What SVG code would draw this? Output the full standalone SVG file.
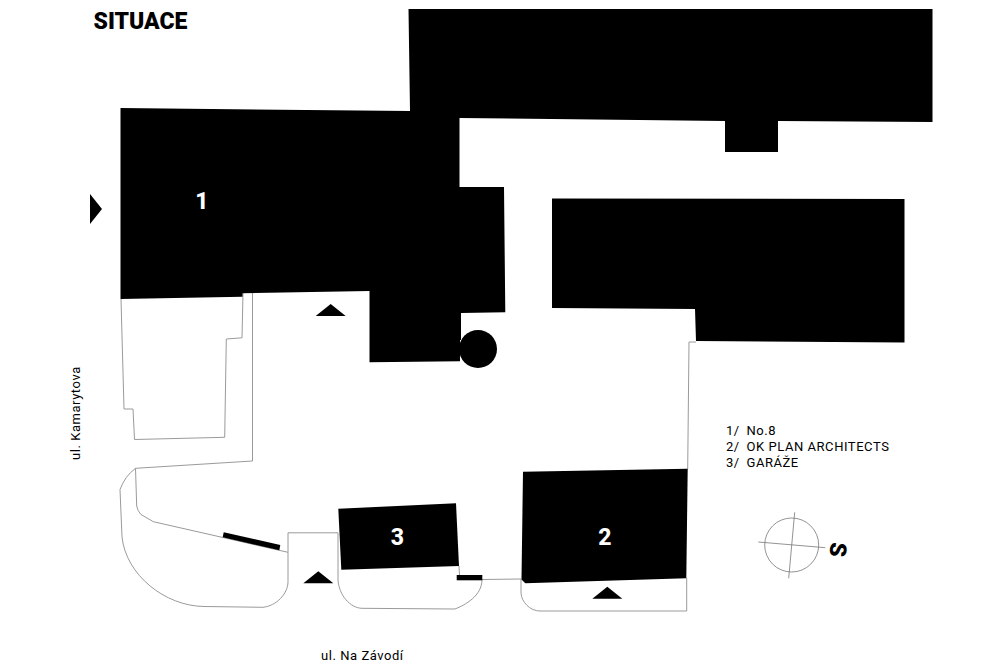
<svg xmlns="http://www.w3.org/2000/svg" width="1000" height="666" viewBox="0 0 1000 666">
<style>
.b{fill:#000;stroke:none}
.l{fill:none;stroke:#9a9a9a;stroke-width:1}
.c{fill:none;stroke:#777;stroke-width:.8}
text{font-family:"Roboto","Liberation Sans",sans-serif;fill:#000}
.n{font-size:23px;font-weight:800;fill:#fff;text-anchor:middle}
.t{font-size:13px;letter-spacing:.55px}
</style>
<rect width="1000" height="666" fill="#fff"/>
<g id="outlines">
<path class="l" d="M121 299L124 409L133 409L134.500 439.500L224.700 437.300L226.300 339L242 337.800L243 293"/>
<path class="l" d="M252.500 293L252.500 461L135.500 468.300L136.700 506Q137.500 511 141 514.500L153.300 521.700L288 552.300V532.800H338"/>
<path class="l" d="M135.500 468.300Q125 476 120 489.500L122 537C126 575 165 606 204 606.500L263 607.300C276 606 288 594 288 581.700V552.300"/>
<path class="l" d="M338 532.800V580C339 595 350 608 362 608.300L455 609C465 605 482 596 482 579.500"/>
<path class="l" d="M459 566L459.500 575M482 579.500L521 579V593C521.500 602 530 611 540 611H686.700V578M687.700 469L689 342H696"/>
</g>
<g id="buildings">
<path id="building-1" class="b" d="M120.500 108L410 111L408.500 9H932.500V122L778 121V152H725V121L459.500 118V187H504L505.300 312.300L461 313V340H460V361.300L369.500 362.300V291L242.500 293.300V296.700L120.500 299Z"/>
<circle id="round-tower" class="b" cx="478" cy="349" r="19"/>
<path id="building-east" class="b" d="M552 198.500L904.500 199V342.500L696 341L695 309L552 308Z"/>
<path id="building-2" class="b" d="M523 471.700L687.700 468.700L686.300 578.300L525.300 583.300L521.500 579.500Z"/>
<path id="building-3" class="b" d="M338.300 508.700L456 503.300L459 566L341.300 569.700Z"/>
<path class="b" d="M223.700 532.300L280.300 545L279.300 550.300L222.700 537.300Z"/>
<path class="b" d="M456.700 575H482.300V580.300H456.700Z"/>
</g>
<g id="markers">
<path class="b" d="M90 194L102 209L90 224Z"/>
<path class="b" d="M315.700 316L330.700 304L345.700 316Z"/>
<path class="b" d="M303.300 583.300L318.300 571.300L333.300 583.300Z"/>
<path class="b" d="M592.300 598.700L607.300 586.700L622.300 598.700Z"/>
</g>
<g id="compass">
<circle class="c" cx="791.700" cy="545" r="27"/>
<path class="c" d="M794.700 512.300L788.700 578.300M758.300 542L825.300 547.700"/>
<text font-size="23" font-weight="900" text-anchor="middle" transform="translate(830 549) rotate(95)">S</text>
</g>
<g id="labels">
<text x="93.500" y="29" font-size="23" font-weight="900">SITUACE</text>
<text class="n" x="202" y="209">1</text>
<text class="n" x="605" y="545">2</text>
<text class="n" x="397.500" y="545">3</text>
<text class="t" x="726" y="435">1/</text><text class="t" x="746.500" y="435">No.8</text>
<text class="t" x="726" y="450.700">2/</text><text class="t" x="746.500" y="450.700">OK PLAN ARCHITECTS</text>
<text class="t" x="726" y="466.500">3/</text><text class="t" x="746.500" y="466.500">GARÁŽE</text>
<text class="t" x="321" y="660">ul. Na Závodí</text>
<text class="t" transform="translate(80 460) rotate(-90)">ul. Kamarytova</text>
</g>
</svg>
